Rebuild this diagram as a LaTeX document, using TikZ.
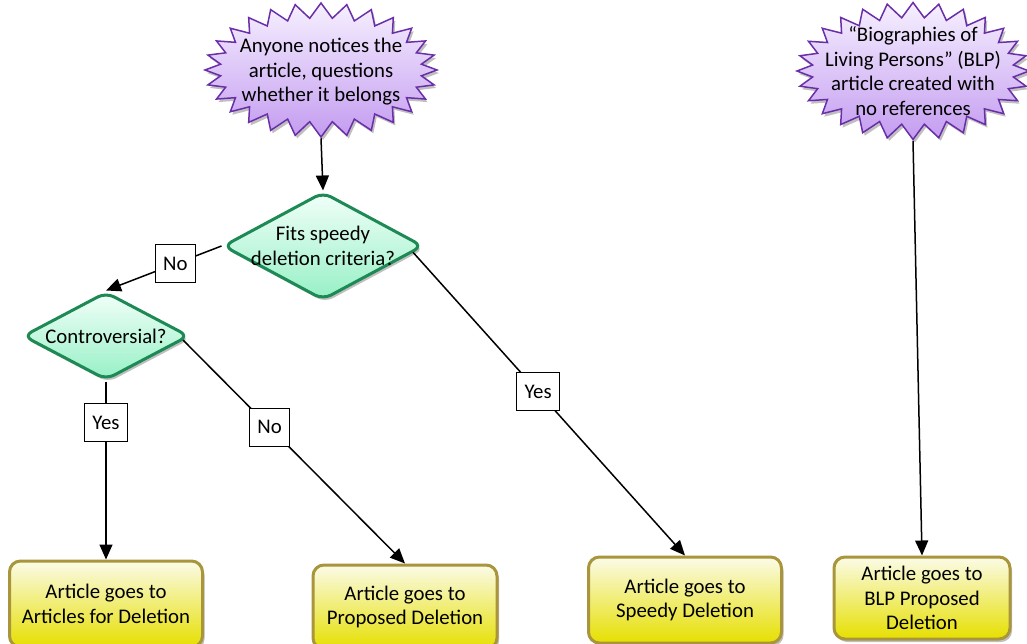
\documentclass[tikz,border=0pt]{standalone}
\usepackage{fontspec}
\setmainfont{Carlito}
\usetikzlibrary{shapes.geometric,shapes.symbols,arrows.meta,shadows,calc}
\definecolor{starline}{HTML}{6A2FA8}
\definecolor{startop}{HTML}{F6F0FF}
\definecolor{starbot}{HTML}{C49CF0}
\definecolor{dialine}{HTML}{1D8A55}
\definecolor{diatop}{HTML}{F2FFF9}
\definecolor{diabot}{HTML}{96F0C6}
\definecolor{boxline}{HTML}{A8953C}
\definecolor{boxtop}{HTML}{FBFBE8}
\definecolor{boxbot}{HTML}{E6DF00}
\tikzset{
  every node/.style={font=\fontsize{20.8}{24.5}\selectfont},
  softshadow/.style={drop shadow={shadow xshift=2pt,shadow yshift=-3pt,opacity=0.25,fill=black}},
  burst/.style={starburst, starburst points=28, starburst point height=15pt, random starburst=0,
    draw=starline, line width=1.5pt, top color=startop, bottom color=starbot, softshadow,
    inner sep=0pt},
  decision/.style={diamond, draw=dialine, line width=3pt, rounded corners=9pt,
    top color=diatop, bottom color=diabot, softshadow, inner sep=0pt},
  dtext/.style={align=center, inner sep=0pt},
  outcome/.style={rectangle, draw=boxline, line width=3pt, rounded corners=11pt,
    top color=boxtop, bottom color=boxbot, softshadow, align=center, inner sep=0pt},
  lbl/.style={draw=black, line width=1.2pt, fill=white, inner xsep=8pt, inner ysep=0pt,
    minimum height=38pt},
  conn/.style={line width=1.5pt, -{Triangle[length=15pt,width=13pt]}}
}
\begin{document}
\begin{tikzpicture}[x=1pt,y=-1pt]
\useasboundingbox (0,0) rectangle (1027,644);
\node[burst, minimum width=232pt, minimum height=134pt] (s1) at (321,70) {};
\node[dtext] (s1t) at (321,72) {Anyone notices the\\article, questions\\whether it belongs};
\node[burst, minimum width=232pt, minimum height=137pt] (s2) at (913,71) {};
\node[dtext] (s2t) at (913,71) {“Biographies of\\Living Persons” (BLP)\\article created with\\no references};
\node[decision, minimum width=200pt, minimum height=108pt, aspect=1.85] (d1) at (323,246) {};
\node[dtext] (d1t) at (d1) {Fits speedy\\deletion criteria?};
\node[decision, minimum width=166pt, minimum height=88pt, aspect=1.89] (d2) at (106,336) {};
\node[dtext] (d2t) at (d2) {Controversial?};
\node[outcome, minimum width=193pt, minimum height=86pt] (b1) at (106,604)
  {Article goes to\\Articles for Deletion};
\node[outcome, minimum width=184pt, minimum height=84pt] (b2) at (405,607)
  {Article goes to\\Proposed Deletion};
\node[outcome, minimum width=193pt, minimum height=86pt] (b3) at (685,600)
  {Article goes to\\Speedy Deletion};
\node[outcome, minimum width=176pt, minimum height=82pt] (b4) at (922,598)
  {Article goes to\\BLP Proposed\\Deletion};
\draw[conn] (s1.south) -- (d1.north);
\draw[conn] (d1.west) -- node[lbl, pos=0.4] (l1) {No} (d2.north);
\draw[conn] (d2.south) -- node[lbl, pos=0.23] (l2) {Yes} (b1.north);
\draw[conn] (d2.-3) -- node[lbl, pos=0.39] (l3) {No} (b2.north);
\draw[conn] (d1.-4) -- node[lbl, pos=0.46] (l4) {Yes} (b3.north);
\draw[conn] (s2.south) -- (b4.north);
\end{tikzpicture}
\end{document}
